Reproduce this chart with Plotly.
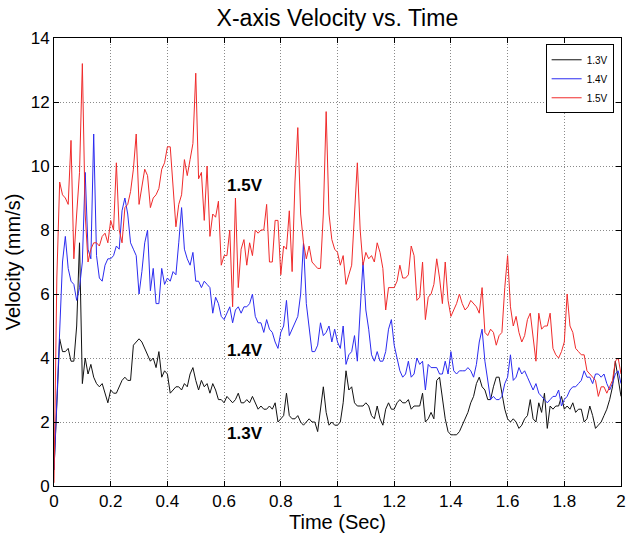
import numpy as np
import plotly.graph_objects as go

# time axis (s), uniform sampling
time = np.round(np.arange(0, 2.0001, 0.01), 2)

v13 = [0.5, 2.5, 4.6, 4.2, 4.2, 4.3, 3.9, 3.9, 5.0, 7.6, 3.2, 4.0, 3.5, 3.8, 3.4, 3.2, 3.1, 3.2, 2.9, 2.6,
       3.0, 2.9, 2.9, 3.1, 3.3, 3.4, 3.3, 3.3, 4.4, 4.5, 4.6, 4.5, 4.3, 4.1, 3.9,
       4.0, 3.7, 4.2, 3.4, 3.6, 3.5, 2.9, 3.0, 3.1, 3.1, 3.0, 3.2, 3.1, 3.5, 3.7, 3.3, 3.0, 3.3, 3.1, 3.2,
       2.9, 3.2, 3.0, 2.7, 2.7, 2.6, 2.8, 2.7, 2.6, 2.7, 2.9, 2.6, 2.6,
       2.7, 2.6, 2.8, 2.6, 2.4, 2.5, 2.4, 2.4, 2.5, 2.4, 2.6, 2.0, 2.1, 2.2, 2.9, 2.2, 2.1, 2.1, 2.2, 2.0,
       1.9, 2.0, 2.1, 2.0, 2.0, 1.7, 2.4, 3.1, 2.3, 1.9, 2.0, 1.9, 1.9,
       2.0, 2.6, 3.6, 3.0, 3.1, 2.6, 2.5, 2.5, 2.5, 2.6, 2.5, 2.2, 2.1, 2.5, 2.1, 1.9, 2.4, 2.6, 2.4, 2.4,
       2.6, 2.7, 2.6, 2.6, 2.7, 2.4, 2.5, 2.5, 2.5, 2.9, 2.0, 2.1, 2.3, 2.1,
       3.3, 3.4, 2.7, 2.1, 1.7, 1.6, 1.6, 1.6, 1.7, 1.9, 2.1, 2.3, 2.6, 2.8, 3.2, 3.4, 3.1, 3.0, 2.7, 2.7,
       3.1, 3.4, 3.4, 2.9, 2.4, 2.1, 2.0, 2.1, 2.0, 1.8, 1.9, 2.1, 2.2, 2.7,
       2.1, 2.0, 2.6, 2.3, 2.9, 1.8, 2.5, 2.4, 2.5, 2.5, 2.8, 2.4, 2.5, 2.4, 2.6, 2.3, 2.4, 2.4, 2.0, 2.1,
       2.5, 2.2, 1.8, 1.9, 2.0, 2.2, 2.4, 2.7, 3.1, 3.9, 3.4, 2.8]

v14 = [0.5, 2.5, 5.0, 7.0, 7.8, 6.8, 6.4, 6.3, 5.8, 6.2, 7.0, 9.8, 7.4, 7.1, 11.0, 7.2, 6.5, 6.4, 6.9, 7.1,
       7.1, 7.2, 7.5, 7.4, 8.6, 9.0, 8.5, 7.6, 7.4, 7.2, 6.0, 6.7, 7.6, 8.0, 6.1,
       6.8, 5.7, 5.7, 6.8, 6.3, 6.5, 6.4, 6.7, 6.6, 7.6, 8.7, 7.4, 7.1, 6.9, 7.3, 6.4, 6.4, 6.2, 6.4, 6.3,
       6.2, 5.4, 5.9, 5.7, 5.3, 5.2, 5.4, 5.6, 5.1, 5.5, 5.6, 5.4, 5.6,
       5.6, 5.7, 6.0, 5.3, 5.1, 5.1, 4.8, 5.2, 4.9, 4.8, 4.5, 4.3, 4.8, 5.0, 5.8, 4.7, 4.9, 5.1, 5.3, 6.0,
       7.6, 5.7, 4.9, 4.2, 4.2, 4.4, 5.1, 4.7, 4.8, 5.0, 4.5, 4.9, 4.5,
       4.3, 5.0, 3.8, 4.1, 4.2, 4.7, 3.9, 5.5, 7.0, 5.5, 4.9, 4.1, 3.9, 4.2, 3.9, 3.9, 4.2, 4.9, 5.2, 4.4,
       4.0, 3.6, 3.4, 3.5, 3.9, 3.4, 3.5, 4.0, 3.8, 3.9, 3.0, 3.8, 3.7, 3.7,
       3.7, 3.5, 3.5, 3.9, 3.5, 4.2, 3.6, 3.5, 3.6, 3.6, 3.6, 3.7, 3.6, 3.4, 3.8, 4.5, 4.9, 3.9, 3.3, 2.7,
       2.8, 2.7, 2.7, 2.8, 3.2, 3.4, 4.1, 3.3, 3.4, 3.7, 3.5, 3.6, 3.4, 3.2,
       3.0, 3.2, 2.9, 2.8, 2.7, 2.6, 2.7, 2.8, 2.8, 3.0, 2.5, 2.7, 2.8, 3.0, 3.1, 3.1, 3.2, 3.3, 3.6, 3.4,
       3.4, 3.2, 3.5, 3.5, 3.4, 3.5, 3.2, 3.0, 3.2, 3.5, 3.6, 3.2]

v15 = [0.1, 6.5, 9.5, 9.1, 9.0, 8.8, 10.8, 7.1, 8.5, 9.8, 13.2, 8.5, 7.0, 7.4, 7.6, 7.6, 7.5, 7.8, 7.9, 7.6,
       8.3, 8.0, 10.1, 8.0, 7.6, 8.7, 8.8, 9.2, 9.9, 11.0, 8.8, 9.3, 9.9, 9.7, 8.7,
       9.0, 9.1, 9.3, 9.9, 10.1, 10.6, 10.6, 9.2, 8.1, 8.8, 9.1, 10.2, 9.7, 10.2, 10.7, 12.9, 9.6, 9.8, 8.3, 10.0,
       7.8, 8.5, 8.4, 8.9, 6.9, 7.2, 7.2, 8.0, 5.6, 9.0, 6.2, 7.4, 7.7,
       6.9, 7.6, 7.2, 8.0, 7.9, 8.0, 8.0, 8.8, 7.0, 7.0, 8.3, 8.3, 6.6, 7.5, 7.4, 8.6, 6.7, 9.5, 11.2, 8.5,
       7.6, 7.1, 7.5, 7.0, 6.9, 6.8, 6.8, 8.5, 11.7, 8.5, 7.7, 7.4, 7.3,
       6.9, 7.2, 6.3, 6.6, 6.9, 8.5, 10.1, 8.0, 6.9, 7.3, 7.1, 7.2, 7.0, 7.6, 7.3, 6.8, 5.5, 6.2, 6.2, 6.2,
       6.4, 6.9, 6.5, 6.5, 6.6, 7.5, 7.2, 5.8, 5.9, 7.0, 5.2, 5.9, 6.0, 6.3,
       7.1, 6.5, 5.7, 7.0, 5.8, 5.3, 5.5, 5.7, 6.0, 5.7, 5.5, 5.6, 5.8, 5.7, 5.6, 5.4, 6.2, 4.8, 4.7, 4.9,
       4.8, 4.4, 4.7, 4.8, 6.2, 7.2, 5.6, 5.0, 5.3, 4.8, 4.5, 4.7, 5.2, 5.4,
       4.6, 3.9, 5.4, 4.9, 5.0, 5.0, 5.4, 4.3, 4.1, 4.0, 4.2, 4.5, 6.0, 5.0, 4.8, 4.3, 4.2, 4.1, 4.1, 3.6,
       3.5, 3.4, 3.3, 2.8, 3.1, 3.1, 2.9, 3.1, 3.3, 3.9, 4.0, 3.5]

series_names = ["1.3V", "1.4V", "1.5V"]
series_values = [v13, v14, v15]
series_colors = ["#111111", "#2b2bf0", "#f02b2b"]

label_text = ["1.5V", "1.4V", "1.3V"]
label_t = [0.675, 0.675, 0.675]
label_v = [9.4, 4.25, 1.65]

xticks = [0, 0.2, 0.4, 0.6, 0.8, 1, 1.2, 1.4, 1.6, 1.8, 2]
xtick_text = ["0", "0.2", "0.4", "0.6", "0.8", "1", "1.2", "1.4", "1.6", "1.8", "2"]
yticks = [0, 2, 4, 6, 8, 10, 12, 14]

FONT = "Liberation Sans, Arial, sans-serif"

fig = go.Figure()
for name, vals, col in zip(series_names, series_values, series_colors):
    fig.add_trace(go.Scatter(x=time, y=vals, mode="lines", name=name,
                             line=dict(color=col, width=1)))

for txt, tt, vv in zip(label_text, label_t, label_v):
    fig.add_annotation(x=tt, y=vv, text="<b>" + txt + "</b>", showarrow=False,
                       font=dict(family=FONT, size=17, color="black"))

axis_common = dict(showline=True, linecolor="black", linewidth=1, mirror="ticks",
                   ticks="inside", ticklen=5, tickcolor="black", automargin=False,
                   showgrid=True, gridcolor="#8a8a8a", griddash="1px,2px", gridwidth=1,
                   zeroline=False, tickfont=dict(family=FONT, size=17, color="black"))

fig.update_xaxes(range=[0, 2], tickvals=xticks, ticktext=xtick_text,
                 title=dict(text="Time (Sec)", font=dict(family=FONT, size=20, color="black"), standoff=2),
                 **axis_common)
fig.update_yaxes(range=[0, 14], tickvals=yticks,
                 title=dict(text="Velocity (mm/s)", font=dict(family=FONT, size=20, color="black"), standoff=4),
                 **axis_common)

fig.update_layout(
    width=626, height=533,
    margin=dict(l=54, r=5, t=38, b=47),
    paper_bgcolor="white", plot_bgcolor="white",
    title=dict(text="X-axis Velocity vs. Time", x=0.539, xanchor="center", y=0.966, yanchor="middle",
               font=dict(family=FONT, size=23, color="black")),
    legend=dict(x=0.987, y=0.986, xanchor="right", yanchor="top", bgcolor="white",
                bordercolor="black", borderwidth=1,
                font=dict(family=FONT, size=10, color="black"),
                tracegroupgap=0, itemwidth=30),
    showlegend=True,
)

fig.write_html("out.html")
